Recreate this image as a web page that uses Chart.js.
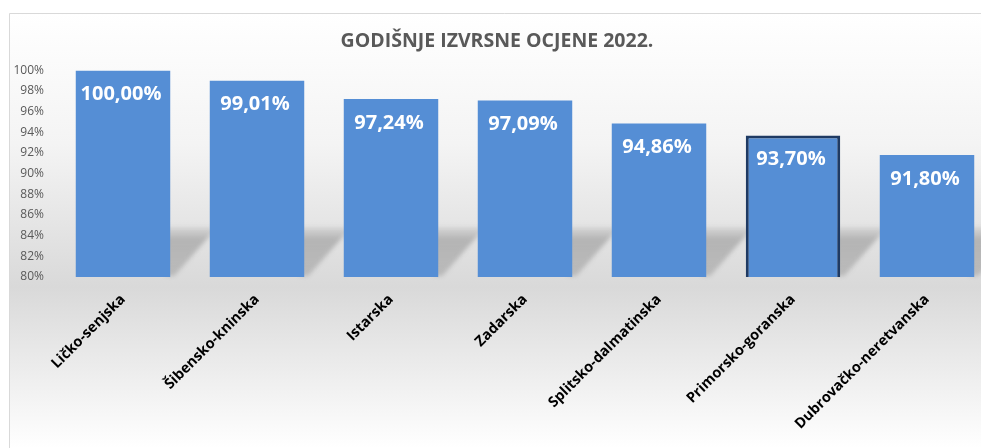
<!DOCTYPE html>
<html>
<head>
<meta charset="utf-8">
<script src="https://cdn.jsdelivr.net/npm/chart.js@4/dist/chart.umd.min.js"></script>
<style>
  html, body { margin: 0; padding: 0; background: #fff; overflow: hidden; }
  #wrap { width: 1000px; height: 448px; position: relative; }
</style>
</head>
<body>
<div id="wrap"><canvas id="ocjeneChart" width="1000" height="448"></canvas></div>
<script>
// Counties
var zupanije = ["Ličko-senjska", "Šibensko-kninska", "Istarska", "Zadarska",
                "Splitsko-dalmatinska", "Primorsko-goranska", "Dubrovačko-neretvanska"];

// Share of excellent grades, %
var izvrsne = [100.00, 99.01, 97.24, 97.09, 94.86, 93.70, 91.80];

// Y axis range
var yMin = 80, yMax = 100, yStep = 2;

var plava = "#558ed5";
var okvir = "#1f3a63";

// background gradient + frame
var pozadina = {
    id: "pozadina",
    beforeDraw: function (chart) {
        var c = chart.ctx;
        var g = c.createLinearGradient(0, 13, 0, 448);
        g.addColorStop(0, "#ffffff");
        g.addColorStop(0.3, "#f4f4f4");
        g.addColorStop(0.63, "#d9d9d9");
        g.addColorStop(1, "#ffffff");
        c.save();
        c.fillStyle = "#ffffff";
        c.fillRect(0, 0, chart.width, chart.height);
        c.fillStyle = g;
        c.fillRect(9, 13, chart.width, chart.height);
        c.strokeStyle = "#d9d9d9";
        c.lineWidth = 1;
        c.beginPath();
        c.moveTo(9.5, chart.height);
        c.lineTo(9.5, 13.5);
        c.lineTo(chart.width, 13.5);
        c.stroke();
        c.restore();
    }
};

// soft floor shadow behind every bar
var sjene = {
    id: "sjene",
    beforeDatasetsDraw: function (chart) {
        var c = chart.ctx;
        var meta = chart.getDatasetMeta(0);
        var b = chart.scales.y.getPixelForValue(yMin);
        c.save();
        c.filter = "blur(2px)";
        meta.data.forEach(function (bar) {
            var p = bar.getProps(["x", "width"], true);
            var r = p.x + p.width / 2;
            var g = c.createLinearGradient(0, b - 50, 0, b);
            g.addColorStop(0, "rgba(150,150,150,0.15)");
            g.addColorStop(0.25, "rgba(150,150,150,0.6)");
            g.addColorStop(1, "rgba(160,160,160,0.55)");
            c.fillStyle = g;
            c.beginPath();
            c.moveTo(r - 4, b - 50);
            c.lineTo(r + 42, b - 50);
            c.lineTo(r + 42, b - 44);
            c.lineTo(r + 4, b - 1);
            c.lineTo(r - 4, b - 1);
            c.closePath();
            c.fill();
        });
        c.restore();
    }
};

// value labels inside the top of the bars
var oznake = {
    id: "oznake",
    afterDatasetsDraw: function (chart) {
        var c = chart.ctx;
        var meta = chart.getDatasetMeta(0);
        c.save();
        c.fillStyle = "#ffffff";
        c.font = "bold 20px 'Open Sans'";
        c.textAlign = "center";
        c.textBaseline = "middle";
        meta.data.forEach(function (bar, i) {
            var txt = izvrsne[i].toFixed(2).replace(".", ",") + "%";
            c.fillText(txt, bar.x - 2, bar.y + 24);
        });
        c.restore();
    }
};

var ctx = document.getElementById("ocjeneChart");

var ocjeneChart = new Chart(ctx, {
    type: "bar",
    data: {
        labels: zupanije,
        datasets: [{
            data: izvrsne,
            backgroundColor: plava,
            borderColor: zupanije.map(function (z, i) { return i === 5 ? okvir : plava; }),
            borderWidth: zupanije.map(function (z, i) { return i === 5 ? 3 : 0; }),
            borderSkipped: false,
            barPercentage: 0.705,
            categoryPercentage: 1
        }]
    },
    options: {
        responsive: false,
        animation: false,
        layout: { padding: { left: 0, right: 6, top: 0, bottom: 0 } },
        plugins: {
            legend: { display: false },
            tooltip: { enabled: false },
            title: {
                display: true,
                text: "GODIŠNJE IZVRSNE OCJENE 2022.",
                color: "#595959",
                font: { family: "'Open Sans'", size: 19.5, weight: "bold" },
                padding: { top: 30, bottom: 17 }
            }
        },
        scales: {
            x: {
                grid: { display: false, drawTicks: false },
                border: { display: false },
                ticks: {
                    color: "#000000",
                    font: { family: "'Open Sans'", size: 14.5, weight: "bold" },
                    maxRotation: 45,
                    minRotation: 45,
                    padding: 14,
                    autoSkip: false
                },
                afterFit: function (scale) { scale.height = 171; }
            },
            y: {
                min: yMin,
                max: yMax,
                grid: { display: false, drawTicks: false },
                border: { display: false },
                ticks: {
                    stepSize: yStep,
                    color: "#595959",
                    font: { family: "'Open Sans'", size: 12 },
                    padding: 12,
                    callback: function (v) { return v + "%"; }
                },
                afterFit: function (scale) { scale.width = 56; }
            }
        }
    },
    plugins: [pozadina, sjene, oznake]
});
</script>
</body>
</html>
